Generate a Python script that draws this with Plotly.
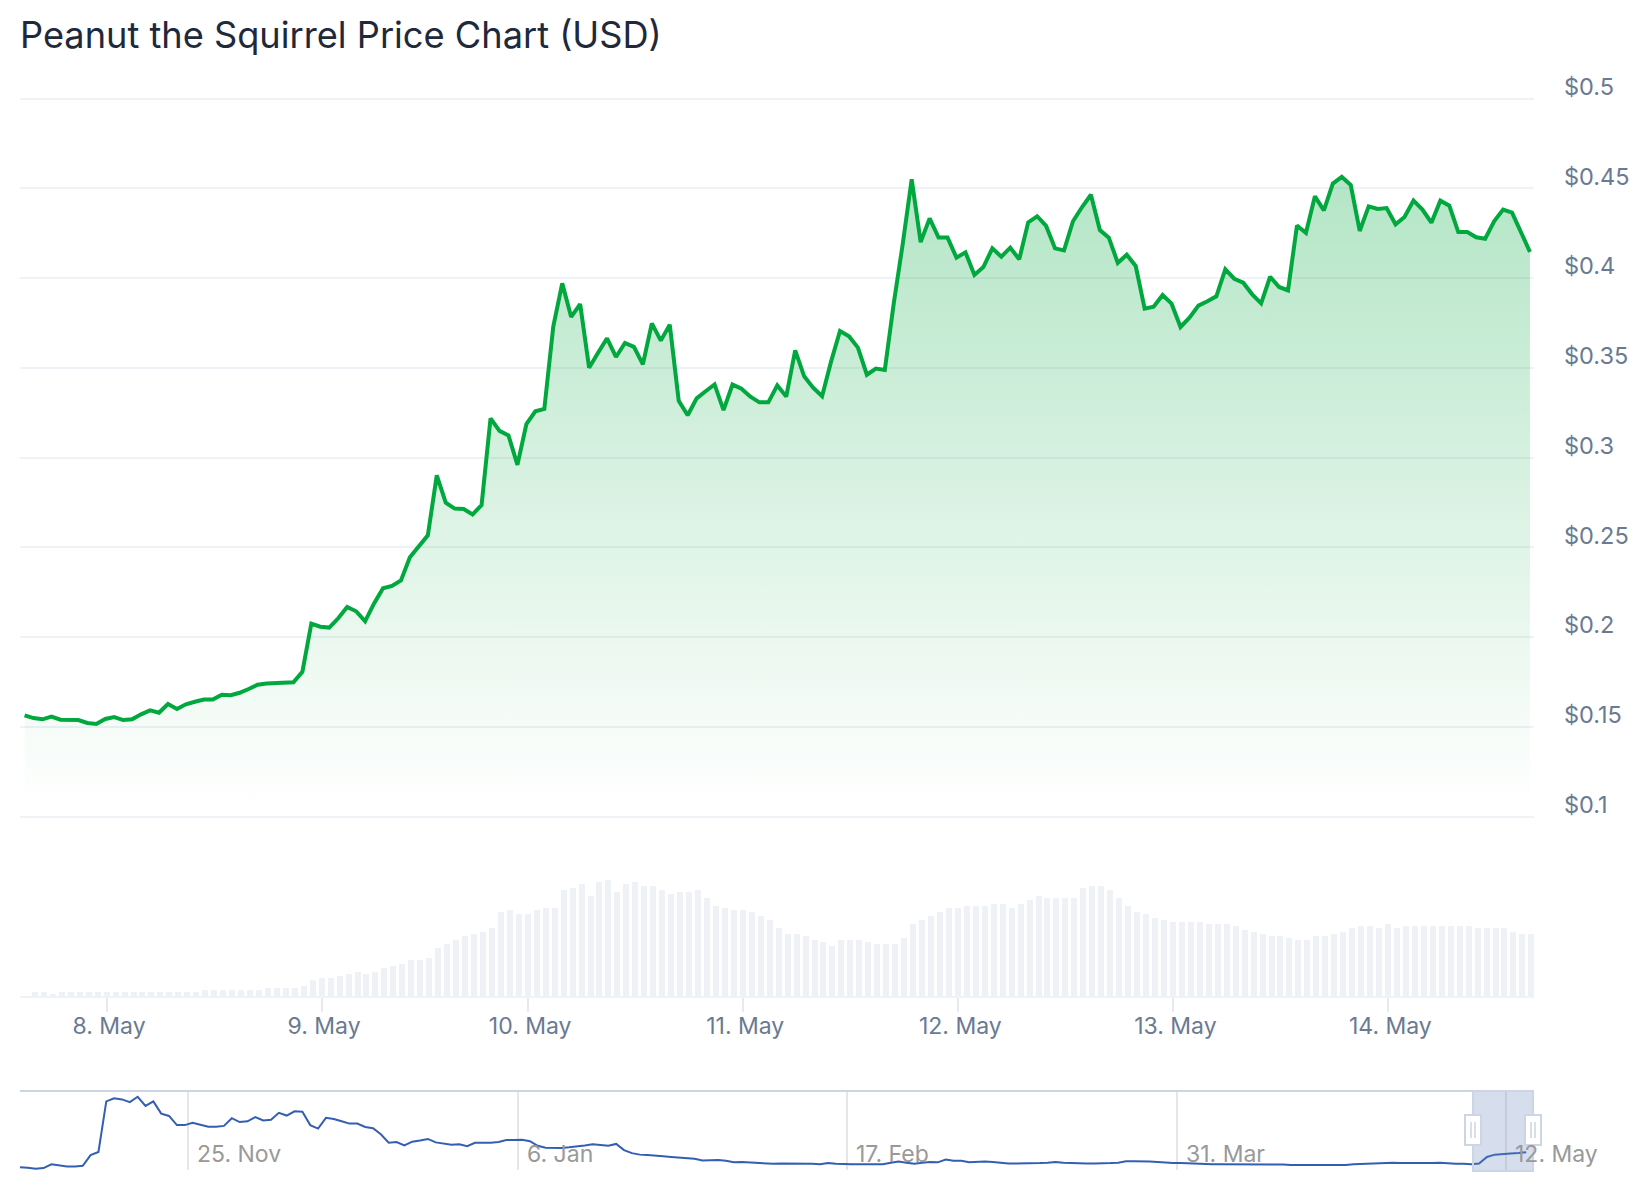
import pandas as pd
import plotly.graph_objects as go

TITLE = "Peanut the Squirrel Price Chart (USD)"

# hourly closes, 7 days
price = [
    0.1564, 0.1549, 0.1542, 0.1557, 0.1540, 0.1540, 0.1538, 0.1522, 0.1516, 0.1544,
    0.1555, 0.1538, 0.1542, 0.1570, 0.1592, 0.1579, 0.1627, 0.1600, 0.1626, 0.1640,
    0.1652, 0.1652, 0.1679, 0.1676, 0.1690, 0.1711, 0.1735, 0.1742, 0.1744, 0.1748,
    0.1748, 0.1807, 0.2075, 0.2058, 0.2053, 0.2105, 0.2168, 0.2144, 0.2088, 0.2188,
    0.2272, 0.2285, 0.2316, 0.2445, 0.2504, 0.2567, 0.2901, 0.2749, 0.2716, 0.2714,
    0.2684, 0.2736, 0.3219, 0.3149, 0.3124, 0.2960,
    0.3187, 0.3258, 0.3271, 0.3730, 0.3971, 0.3784, 0.3856, 0.3501, 0.3585, 0.3665,
    0.3561, 0.3639, 0.3617, 0.3520, 0.3748, 0.3652, 0.3741, 0.3317, 0.3236, 0.3330,
    0.3370, 0.3408, 0.3265, 0.3407, 0.3384, 0.3340, 0.3308, 0.3308, 0.3403, 0.3340,
    0.3598, 0.3453, 0.3390, 0.3342, 0.3535, 0.3706, 0.3676, 0.3613, 0.3462, 0.3496,
    0.3488, 0.3860, 0.4190, 0.4551, 0.4201, 0.4333, 0.4226, 0.4226, 0.4114, 0.4144,
    0.4018, 0.4062, 0.4166, 0.4120, 0.4170, 0.4105,
    0.4311, 0.4345, 0.4291, 0.4166, 0.4155, 0.4317, 0.4395, 0.4465, 0.4268, 0.4226,
    0.4085, 0.4131, 0.4068, 0.3830, 0.3841, 0.3906, 0.3858, 0.3728, 0.3780, 0.3847,
    0.3871, 0.3899, 0.4049, 0.3997, 0.3975, 0.3910, 0.3860, 0.4008, 0.3951, 0.3932,
    0.4294, 0.4252, 0.4456, 0.4378, 0.4527, 0.4564, 0.4519, 0.4263, 0.4400, 0.4386,
    0.4391, 0.4300, 0.4341, 0.4432, 0.4382, 0.4309, 0.4432, 0.4404, 0.4257, 0.4257,
    0.4228, 0.4220, 0.4317, 0.4382, 0.4365, 0.4255, 0.4146,
]

# rolling volume, relative height
volume = [
    0, 4, 4, 2, 4, 4, 4, 4, 4, 4, 4, 4, 4, 4, 4, 4, 4, 4, 4, 4,
    6, 6, 6, 6, 6, 6, 6, 8, 8, 8, 8, 10, 16, 18, 18, 20, 22, 24, 22, 24,
    28, 30, 32, 36, 36, 38, 48, 52, 56, 60, 62, 64, 68, 84, 86, 82, 82,
    86, 88, 88, 106, 108, 112, 100, 114, 116, 104, 112, 114, 110, 110, 106, 102, 104, 104, 106,
    98, 90, 88, 86, 86, 84, 80, 76, 68, 62, 62, 60, 56, 54, 50, 56, 56, 56, 54, 52,
    52, 52, 58, 72, 76, 80, 84, 88, 88, 90, 90, 90, 92, 92, 88, 92, 96, 100,
    98, 98, 98, 98, 108, 110, 110, 106, 98, 90, 84, 82, 78, 76, 74, 74, 74, 74, 72, 72,
    72, 70, 66, 64, 62, 60, 60, 58, 56, 56, 60, 60, 62, 64, 68, 70, 70, 68, 72, 68,
    70, 70, 70, 70, 70, 70, 70, 70, 68, 68, 68, 68, 64, 62, 62,
]

day_labels = ["8. May", "9. May", "10. May", "11. May", "12. May", "13. May", "14. May"]
day_start = [9, 33, 56, 80, 104, 128, 152]

price_ticks = [0.1, 0.15, 0.2, 0.25, 0.3, 0.35, 0.4, 0.45, 0.5]
price_labels = ["$0.1", "$0.15", "$0.2", "$0.25", "$0.3", "$0.35", "$0.4", "$0.45", "$0.5"]

# full history for the navigator, one value per day
history = [
    0.085, 0.077, 0.052, 0.069, 0.149, 0.117, 0.101, 0.101, 0.117, 0.342,
    0.407, 1.470, 1.535, 1.511, 1.454, 1.567, 1.374, 1.470, 1.213, 1.164,
    0.971, 0.971, 1.019, 0.979, 0.939, 0.939, 0.955, 1.116, 1.035, 1.052,
    1.140, 1.068, 1.084, 1.229, 1.172, 1.261, 1.253, 0.971, 0.898, 1.124,
    1.100, 1.052, 1.003, 1.003, 0.931, 0.906, 0.778, 0.600, 0.616, 0.544,
    0.624, 0.649, 0.681, 0.608, 0.576, 0.560, 0.568, 0.528, 0.600, 0.600,
    0.600, 0.616, 0.657, 0.657, 0.665, 0.633, 0.536, 0.496, 0.488, 0.488,
    0.504, 0.520, 0.544, 0.568, 0.552, 0.536, 0.576, 0.447, 0.383, 0.351,
    0.342, 0.334, 0.318, 0.302, 0.286, 0.278, 0.262, 0.230, 0.238, 0.238,
    0.222, 0.189, 0.197, 0.189, 0.181, 0.173, 0.157, 0.165, 0.165, 0.165,
    0.165, 0.157, 0.149, 0.173, 0.157, 0.149, 0.149, 0.149, 0.149, 0.149,
    0.149, 0.181, 0.206, 0.181, 0.157, 0.181, 0.197, 0.189, 0.246, 0.222,
    0.222, 0.189, 0.197, 0.206, 0.197, 0.181, 0.165, 0.165, 0.165, 0.165,
    0.173, 0.181, 0.197, 0.181, 0.173, 0.165, 0.165, 0.165, 0.165, 0.173,
    0.181, 0.214, 0.214, 0.214, 0.206, 0.197, 0.181, 0.173, 0.173, 0.165,
    0.157, 0.149, 0.149, 0.149, 0.149, 0.149, 0.141, 0.141, 0.141, 0.141,
    0.141, 0.141, 0.133, 0.133, 0.133, 0.133, 0.133, 0.133, 0.133, 0.133,
    0.149, 0.157, 0.165, 0.173, 0.181, 0.181, 0.173, 0.173, 0.165, 0.165,
    0.173, 0.181, 0.165, 0.157, 0.157, 0.149, 0.165, 0.302, 0.351, 0.367,
    0.375, 0.383, 0.399,
]
history_ticks = ["2024-11-25", "2025-01-06", "2025-02-17", "2025-03-31", "2025-05-12"]
history_labels = ["25. Nov", "6. Jan", "17. Feb", "31. Mar", "12. May"]

WIDTH, HEIGHT = 1644, 1200
LEFT, RIGHT = 20, 1534
GRID = "#eff2f6"
LABEL = "#697a92"
GREEN = "#00a83e"
NAV_EDGE = "#cbd5e4"
FONT = "Inter"


def py(pixel):
    return 1 - pixel / HEIGHT


def px(pixel):
    return pixel / WIDTH


hours = list(range(len(price)))
history_days = pd.date_range("2024-11-03 12:40", periods=len(history), freq="D")
x_domain = [px(LEFT), px(RIGHT)]

fig = go.Figure()
fig.add_trace(
    go.Bar(
        x=hours,
        y=volume,
        xaxis="x",
        yaxis="y2",
        width=0.67,
        offset=-0.18,
        marker={"color": "#eef1f5", "line": {"width": 0}},
        hoverinfo="skip",
    )
)
fig.add_trace(
    go.Scatter(
        x=hours,
        y=price,
        xaxis="x",
        yaxis="y",
        mode="lines",
        line={"color": GREEN, "width": 4},
        fill="tozeroy",
        fillgradient={
            "type": "vertical",
            "start": 0.46,
            "stop": 0.105,
            "colorscale": [[0, "rgba(0,168,62,0.3)"], [1, "rgba(0,168,62,0)"]],
        },
    )
)
fig.add_trace(
    go.Scatter(
        x=history_days,
        y=history,
        xaxis="x2",
        yaxis="y3",
        mode="lines",
        line={"color": "#335fb3", "width": 2},
        hoverinfo="skip",
    )
)

shapes = [
    # navigator selection
    dict(
        type="rect", xref="paper", yref="paper",
        x0=px(1473), x1=px(1533), y0=py(1171), y1=py(1091),
        fillcolor="rgba(102,133,194,0.27)", line={"color": NAV_EDGE, "width": 2},
    ),
    # navigator top edge
    dict(
        type="line", xref="paper", yref="paper",
        x0=px(LEFT), x1=px(RIGHT), y0=py(1091), y1=py(1091),
        line={"color": NAV_EDGE, "width": 2},
    ),
]
for centre in (1473, 1533):
    shapes.append(
        dict(
            type="rect", xref="paper", yref="paper",
            x0=px(centre - 8), x1=px(centre + 8), y0=py(1145), y1=py(1115),
            fillcolor="white", line={"color": NAV_EDGE, "width": 2},
        )
    )
    for grip in (-2, 2):
        shapes.append(
            dict(
                type="line", xref="paper", yref="paper",
                x0=px(centre + grip), x1=px(centre + grip), y0=py(1138), y1=py(1122),
                line={"color": NAV_EDGE, "width": 1.5},
            )
        )

annotations = [
    dict(
        x=pd.Timestamp(tick), xref="x2", y=py(1154), yref="paper",
        text=label, showarrow=False, xanchor="left", yanchor="middle", xshift=7,
        font={"family": FONT, "size": 23, "color": "#999999"},
    )
    for tick, label in zip(history_ticks, history_labels)
]

fig.update_layout(
    width=WIDTH,
    height=HEIGHT,
    margin={"l": 0, "r": 0, "t": 0, "b": 0, "autoexpand": False},
    paper_bgcolor="white",
    plot_bgcolor="rgba(0,0,0,0)",
    showlegend=False,
    bargap=0,
    shapes=shapes,
    annotations=annotations,
    font={"family": FONT, "color": LABEL},
    title={
        "text": TITLE,
        "x": px(LEFT),
        "xanchor": "left",
        "y": py(35),
        "yanchor": "middle",
        "font": {"family": FONT, "size": 36.2, "color": "#1e293b"},
        "pad": {"l": 0, "t": 0, "b": 0, "r": 0},
    },
    xaxis={
        "domain": x_domain,
        "anchor": "y2",
        "automargin": False,
        "range": [-0.513, 168.45],
        "tickvals": [d + 0.2 for d in day_start],
        "ticktext": day_labels,
        "ticks": "outside",
        "ticklen": 14,
        "tickcolor": "#e6e9ef",
        "tickwidth": 1.5,
        "ticklabelstandoff": -6,
        "ticklabelshift": 2,
        "tickfont": {"family": FONT, "size": 23, "color": LABEL},
        "showline": True,
        "linecolor": GRID,
        "linewidth": 2,
        "showgrid": False,
        "zeroline": False,
    },
    yaxis={
        # 3px past the end ticks, plotly drops gridlines closer than that to the edge
        "domain": [py(819.6), py(95.7)],
        "range": [0.09833, 0.50167],
        "side": "right",
        "anchor": "x",
        "automargin": False,
        "tickvals": price_ticks,
        "ticktext": price_labels,
        "ticklabelstandoff": 29,
        "ticklabelshift": -12,
        "tickfont": {"family": FONT, "size": 23.5, "color": LABEL},
        "gridcolor": GRID,
        "gridwidth": 2,
        "showline": False,
        "zeroline": False,
    },
    yaxis2={
        "domain": [py(996), py(870)],
        "range": [0, 126],
        "anchor": "x",
        "automargin": False,
        "showticklabels": False,
        "showgrid": False,
        "zeroline": False,
    },
    xaxis2={
        "domain": x_domain,
        "anchor": "y3",
        "automargin": False,
        "type": "date",
        "range": [history_days[0], history_days[0] + pd.Timedelta(days=193)],
        "tickvals": [pd.Timestamp(t) for t in history_ticks],
        "showticklabels": False,
        "showgrid": True,
        "gridcolor": "#e6e6e6",
        "gridwidth": 1.5,
        "zeroline": False,
        "showline": False,
    },
    yaxis3={
        "domain": [py(1170), py(1091)],
        "range": [0.028, 1.688],
        "anchor": "x2",
        "automargin": False,
        "showticklabels": False,
        "showgrid": False,
        "zeroline": False,
    },
)

# default body margin would push the page past the window and squash the photo
fig.write_html(
    "out.html",
    config={"displayModeBar": False},
    post_script="document.body.style.margin = '0';",
)
